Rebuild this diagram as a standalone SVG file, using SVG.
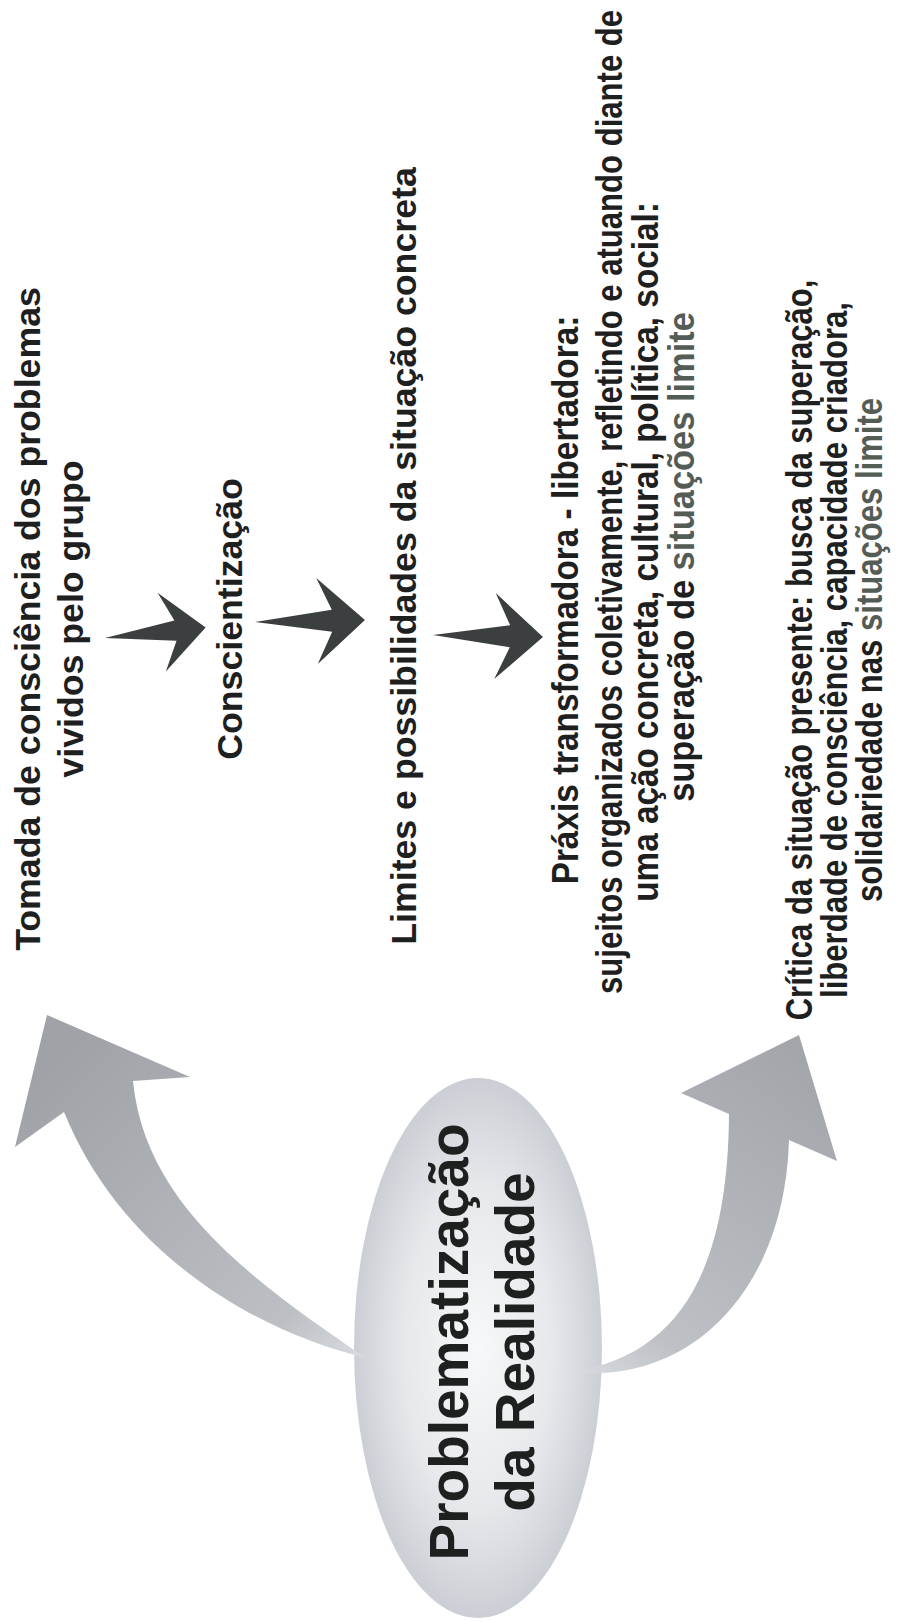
<svg xmlns="http://www.w3.org/2000/svg" width="897" height="1622" viewBox="0 0 897 1622">
  <style>
    .lbl { font-family: "Liberation Sans", Arial, Helvetica, sans-serif; font-weight: bold; font-size: 35.7px; fill: #1d201e; text-anchor: middle; }
    .nar { font-size: 37px; }
    .big { font-size: 55px; }
    .soft { fill: #545c56; }
    .dart { fill: #3c3f3f; }
  </style>
  <defs>
    <radialGradient id="ovalFill" cx="50%" cy="50%" r="50%">
      <stop offset="0" stop-color="#f7f8f9"/>
      <stop offset="0.6" stop-color="#e6e8eb"/>
      <stop offset="1" stop-color="#cbcfd5"/>
    </radialGradient>
    <linearGradient id="upFill" gradientUnits="userSpaceOnUse" x1="366" y1="1358" x2="60" y2="1060">
      <stop offset="0" stop-color="#d9dce0"/>
      <stop offset="0.2" stop-color="#bcc0c5"/>
      <stop offset="1" stop-color="#9fa2a7"/>
    </linearGradient>
    <linearGradient id="downFill" gradientUnits="userSpaceOnUse" x1="572" y1="1372" x2="799" y2="1050">
      <stop offset="0" stop-color="#d8dbdf"/>
      <stop offset="0.2" stop-color="#bdc0c5"/>
      <stop offset="1" stop-color="#a2a5aa"/>
    </linearGradient>
    <!-- straight dart arrow, tail at origin, tip at (110,0) -->
    <path id="dartShape" d="M0,0 L77,-11 L62,-43 L110,0 L62,43 L77,11 Z"/>
  </defs>

  <rect width="897" height="1622" fill="#ffffff"/>

  <!-- central oval -->
  <g id="n-problematizacao">
    <ellipse cx="478" cy="1348" rx="124" ry="270" fill="url(#ovalFill)"/>
    <g transform="rotate(-90)">
      <text class="lbl big" x="-1342" y="468">Problematização</text>
      <text class="lbl big" x="-1342" y="534">da Realidade</text>
    </g>
  </g>

  <!-- connectors -->
  <g id="connectors">
    <path d="M366,1358 C250,1330 120,1250 64,1112 L15,1147 L47,1015 L190,1077 L133,1081 C145,1205 255,1282 366,1358 Z" fill="url(#upFill)"/>
    <path d="M572,1372 C690,1385 785,1290 789,1140 L837,1161 L799,1035 L681,1093 L729,1114 C728,1270 680,1355 572,1372 Z" fill="url(#downFill)"/>
    <use href="#dartShape" class="dart" transform="translate(105,638) rotate(-6) scale(0.92)"/>
    <use href="#dartShape" class="dart" transform="translate(255,622) rotate(-1)"/>
    <use href="#dartShape" class="dart" transform="translate(433,635) rotate(1)"/>
  </g>

  <g id="n-tomada" transform="rotate(-90)">
    <text class="lbl" x="-619" y="40">Tomada de consciência dos problemas</text>
    <text class="lbl" x="-619" y="83">vividos pelo grupo</text>
  </g>

  <g id="n-conscientizacao" transform="rotate(-90)">
    <text class="lbl" x="-619" y="242">Conscientização</text>
  </g>

  <g id="n-limites" transform="rotate(-90)">
    <text class="lbl" x="-556" y="416">Limites e possibilidades da situação concreta</text>
  </g>

  <!-- condensed lettering: text run compressed to 84% along its direction -->
  <g id="n-praxis" transform="rotate(-90) scale(0.84,1)">
    <text class="lbl nar" x="-714.3" y="578" textLength="677" lengthAdjust="spacingAndGlyphs">Práxis transformadora - libertadora:</text>
    <text class="lbl nar" x="-597.6" y="622">sujeitos organizados coletivamente, refletindo e atuando diante de</text>
    <text class="lbl nar" x="-657.1" y="658" textLength="833" lengthAdjust="spacingAndGlyphs">uma ação concreta, cultural, política, social:</text>
    <text class="lbl nar" x="-663.1" y="694" textLength="583" lengthAdjust="spacingAndGlyphs">superação de <tspan class="soft">situações limite</tspan></text>
  </g>

  <g id="n-critica" transform="rotate(-90) scale(0.84,1)">
    <text class="lbl nar" x="-773.8" y="812">Crítica da situação presente: busca da superação,</text>
    <text class="lbl nar" x="-773.8" y="847">liberdade de consciência, capacidade criadora,</text>
    <text class="lbl nar" x="-773.8" y="882">solidariedade nas <tspan class="soft">situações limite</tspan></text>
  </g>
</svg>
